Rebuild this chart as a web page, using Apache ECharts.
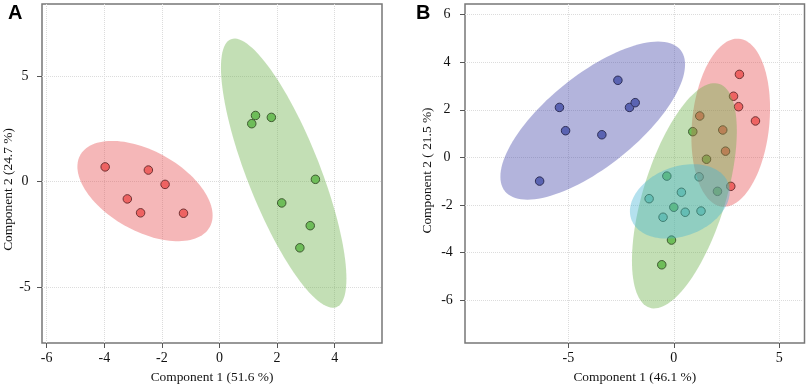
<!DOCTYPE html>
<html>
<head>
<meta charset="utf-8">
<script src="https://cdn.jsdelivr.net/npm/echarts@6/dist/echarts.min.js"></script>
<style>html,body{margin:0;padding:0;background:#fff}#c{width:809px;height:391px}</style>
</head>
<body>
<div id="c"></div>
<script>
// ---- Data ----
// Panel A
const aRedX   = [-3.97, -2.47, -1.89, -3.20, -2.74, -1.25];
const aRedY   = [ 0.70,  0.55, -0.13, -0.82, -1.48, -1.50];
const aGreenX = [1.12, 1.25, 1.80, 3.33, 2.16, 3.15, 2.79];
const aGreenY = [2.75, 3.14, 3.05, 0.11, -1.01, -2.09, -3.14];
// Panel B
const bBlueX  = [-6.36, -5.42, -5.13, -3.41, -2.65, -2.10, -1.83];
const bBlueY  = [-1.00,  2.10,  1.12,  0.95,  3.24,  2.10,  2.30];
const bRedX   = [3.11, 2.83, 3.07, 3.87, 1.23, 2.32, 2.45, 2.70];
const bRedY   = [3.49, 2.57, 2.13, 1.53, 1.74, 1.15, 0.26, -1.22];
const bGreenX = [0.90, 1.55, -0.33, 2.07, 0.00, -0.11, -0.57];
const bGreenY = [1.08, -0.08, -0.79, -1.43, -2.10, -3.48, -4.52];
const bCyanX  = [1.20, 0.36, -1.17, -0.51, 0.54, 1.29];
const bCyanY  = [-0.82, -1.47, -1.74, -2.52, -2.31, -2.26];
// Tick labels
const aXTicks = [-6, -4, -2, 0, 2, 4];
const aYTicks = [-5, 0, 5];
const bXTicks = [-5, 0, 5];
const bYTicks = [-6, -4, -2, 0, 2, 4, 6];
const aXName = 'Component 1 (51.6 %)';
const aYName = 'Component 2 (24.7 %)';
const bXName = 'Component 1 (46.1 %)';
const bYName = 'Component 2 ( 21.5 %)';

// ---- Styling ----
const COL = {
  red:   {pt: '#F47371', fill: 'rgba(230,75,77,0.4)'},
  green: {pt: '#72C666', fill: 'rgba(105,175,70,0.4)'},
  blue:  {pt: '#6B78BA', fill: 'rgba(65,68,168,0.4)'},
  cyan:  {pt: '#88D3D9', fill: 'rgba(67,180,212,0.4)'}
};
const serif = 'Liberation Serif';

function zip(xs, ys) { return xs.map((x, i) => [x, ys[i]]); }

// 95% confidence (data) ellipse from the group's sample covariance
function ellipse(xs, ys) {
  const n = xs.length;
  const mx = xs.reduce((a, b) => a + b, 0) / n;
  const my = ys.reduce((a, b) => a + b, 0) / n;
  let sxx = 0, syy = 0, sxy = 0;
  for (let i = 0; i < n; i++) {
    sxx += (xs[i] - mx) ** 2; syy += (ys[i] - my) ** 2; sxy += (xs[i] - mx) * (ys[i] - my);
  }
  sxx /= (n - 1); syy /= (n - 1); sxy /= (n - 1);
  const t = Math.sqrt(-2 * Math.log(0.05));
  const l11 = Math.sqrt(sxx), l21 = sxy / l11, l22 = Math.sqrt(syy - l21 * l21);
  const pts = [];
  for (let k = 0; k < 120; k++) {
    const th = 2 * Math.PI * k / 120, u = Math.cos(th), v = Math.sin(th);
    pts.push([mx + t * l11 * u, my + t * (l21 * u + l22 * v)]);
  }
  return {center: [mx, my], pts};
}

function scatterSeries(xs, ys, c, idx) {
  return {
    type: 'scatter', xAxisIndex: idx, yAxisIndex: idx, z: 2,
    data: zip(xs, ys), symbol: 'circle', symbolSize: 8.5,
    itemStyle: {color: c.pt, borderColor: '#222', borderWidth: 1, opacity: 1},
    emphasis: {disabled: true}, silent: true
  };
}
function ellipseSeries(xs, ys, c, idx) {
  const e = ellipse(xs, ys);
  return {
    type: 'custom', xAxisIndex: idx, yAxisIndex: idx, z: 3, silent: true,
    data: [e.center], clip: true,
    renderItem: function (params, api) {
      return {
        type: 'polygon',
        shape: {points: e.pts.map(p => api.coord(p))},
        style: {fill: c.fill, stroke: null}
      };
    }
  };
}

function xAxis(idx, min, max, ticks, name) {
  return {
    type: 'value', gridIndex: idx, min, max, name, position: 'bottom',
    nameLocation: 'middle', nameGap: 34.5,
    nameTextStyle: {fontFamily: serif, fontSize: 13.4, color: '#111', verticalAlign: 'middle'},
    axisLine: {show: false, onZero: false},
    axisTick: {show: true, length: 5, inside: false, lineStyle: {color: '#555', width: 1}, customValues: ticks},
    axisLabel: {fontFamily: serif, fontSize: 14, color: '#111', margin: 15, verticalAlign: 'middle', customValues: ticks,
      formatter: v => String(v)},
    splitLine: {show: true, lineStyle: {color: '#dcdcdc', type: 'dotted', width: 1}}
  };
}
function yAxis(idx, min, max, ticks, name, gap, lblMargin, namePad) {
  return {
    type: 'value', gridIndex: idx, min, max, name, position: 'left',
    nameLocation: 'middle', nameGap: gap, nameRotate: 90,
    nameTextStyle: {fontFamily: serif, fontSize: 13.4, color: '#111', padding: namePad},
    axisLine: {show: false, onZero: false},
    axisTick: {show: true, length: 5, inside: false, lineStyle: {color: '#555', width: 1}, customValues: ticks},
    axisLabel: {fontFamily: serif, fontSize: 14, color: '#111', margin: lblMargin, align: 'center', customValues: ticks,
      formatter: v => String(v)},
    splitLine: {show: true, lineStyle: {color: '#dcdcdc', type: 'dotted', width: 1}}
  };
}

const chart = echarts.init(document.getElementById('c'), null, {renderer: 'canvas'});
chart.setOption({
  animation: false,
  backgroundColor: '#fff',
  grid: [
    {left: 42, top: 4, width: 340, height: 339, show: true, borderColor: '#777', borderWidth: 1.5, backgroundColor: 'transparent'},
    {left: 465, top: 4, width: 339.5, height: 339, show: true, borderColor: '#777', borderWidth: 1.5, backgroundColor: 'transparent'}
  ],
  xAxis: [
    xAxis(0, -6.163, 5.642, aXTicks, aXName),
    xAxis(1, -9.896, 6.194, bXTicks, bXName)
  ],
  yAxis: [
    yAxis(0, -7.658, 8.431, aYTicks, aYName, 27, 17, [0, 32, 0, 0]),
    yAxis(1, -7.81, 6.45, bYTicks, bYName, 31, 18, [0, 0, 0, 6])
  ],
  graphic: [
    {type: 'text', left: 8, top: 3, style: {text: 'A', font: 'bold 20px "Liberation Sans"', fill: '#000'}},
    {type: 'text', left: 416, top: 3, style: {text: 'B', font: 'bold 20px "Liberation Sans"', fill: '#000'}}
  ],
  series: [
    scatterSeries(aRedX, aRedY, COL.red, 0),
    scatterSeries(aGreenX, aGreenY, COL.green, 0),
    ellipseSeries(aRedX, aRedY, COL.red, 0),
    ellipseSeries(aGreenX, aGreenY, COL.green, 0),
    scatterSeries(bBlueX, bBlueY, COL.blue, 1),
    scatterSeries(bRedX, bRedY, COL.red, 1),
    scatterSeries(bGreenX, bGreenY, COL.green, 1),
    scatterSeries(bCyanX, bCyanY, COL.cyan, 1),
    ellipseSeries(bBlueX, bBlueY, COL.blue, 1),
    ellipseSeries(bRedX, bRedY, COL.red, 1),
    ellipseSeries(bGreenX, bGreenY, COL.green, 1),
    ellipseSeries(bCyanX, bCyanY, COL.cyan, 1)
  ]
});
</script>
</body>
</html>
